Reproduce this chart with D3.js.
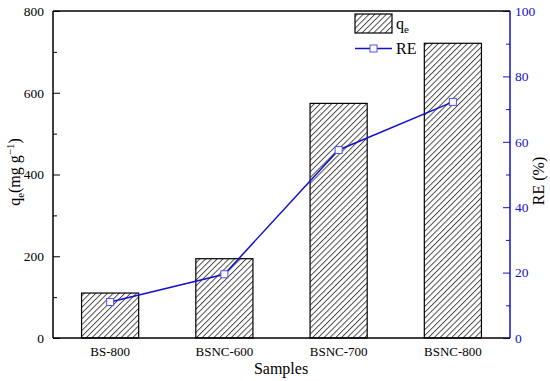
<!DOCTYPE html>
<html>
<head>
<meta charset="UTF-8">
<script src="https://cdnjs.cloudflare.com/ajax/libs/d3/7.8.5/d3.min.js"></script>
<style>
  body { margin: 0; background: #fff; }
  svg text { font-family: "Liberation Serif", "Times New Roman", serif !important; }
</style>
</head>
<body>
<svg id="chart" width="550" height="381"></svg>
<script>
// data
const samples = ["BS-800", "BSNC-600", "BSNC-700", "BSNC-800"];
const qe = [110, 194, 574, 721];
const re = [11.0, 19.5, 57.5, 72.2];
const qeTicks = [0, 200, 400, 600, 800];
const reTicks = [0, 20, 40, 60, 80, 100];

const margin = { left: 53, right: 40, top: 11, bottom: 43 };
const W = 550, H = 381;
const svg = d3.select("#chart");
const blue = "#1010d0";

const x = d3.scaleBand().domain(samples).range([margin.left, W - margin.right]).paddingInner(0.5).paddingOuter(0.25);
const y = d3.scaleLinear().domain([0, 800]).range([H - margin.bottom, margin.top]);
const y2 = d3.scaleLinear().domain([0, 100]).range([H - margin.bottom, margin.top]);

// hatch pattern
const hp = 4.1;
const defs = svg.append("defs");
const pat = defs.append("pattern")
    .attr("id", "hatch")
    .attr("patternUnits", "userSpaceOnUse")
    .attr("width", hp).attr("height", hp)
    .attr("patternTransform", "rotate(45)");
pat.append("rect").attr("width", hp).attr("height", hp).attr("fill", "#fff");
pat.append("line").attr("x1", 0.5).attr("y1", 0).attr("x2", 0.5).attr("y2", hp)
    .attr("stroke", "#222").attr("stroke-width", 0.8);

// bars
svg.selectAll("rect.bar")
    .data(samples)
    .join("rect")
    .attr("class", "bar")
    .attr("x", d => x(d))
    .attr("width", x.bandwidth())
    .attr("y", (d, i) => y(qe[i]))
    .attr("height", (d, i) => y(0) - y(qe[i]))
    .attr("fill", "url(#hatch)")
    .attr("stroke", "#000")
    .attr("stroke-width", 1.2);

// RE line
const pts = samples.map((d, i) => [x(d) + x.bandwidth() / 2, y2(re[i])]);
svg.append("path")
    .attr("d", d3.line()(pts))
    .attr("fill", "none")
    .attr("stroke", blue)
    .attr("stroke-width", 1.5);
svg.selectAll("rect.mk")
    .data(pts)
    .join("rect")
    .attr("class", "mk")
    .attr("x", d => d[0] - 3.5).attr("y", d => d[1] - 3.5)
    .attr("width", 7).attr("height", 7)
    .attr("fill", "#fff")
    .attr("stroke", "#5050f0")
    .attr("stroke-width", 1);

// axes
const left = svg.append("g").attr("transform", `translate(${margin.left},0)`)
    .call(d3.axisLeft(y).tickValues(qeTicks).tickSize(-7).tickPadding(9));
left.append("g").call(d3.axisLeft(y).tickValues([100, 300, 500, 700]).tickSize(-4).tickFormat(""));
left.selectAll("path.domain").remove();
left.selectAll("line").attr("stroke", "#000");
left.selectAll("text").attr("font-size", 13.5).attr("fill", "#000");

const right = svg.append("g").attr("transform", `translate(${W - margin.right},0)`)
    .call(d3.axisRight(y2).tickValues(reTicks).tickSize(-7).tickPadding(5));
right.append("g").call(d3.axisRight(y2).tickValues([10, 30, 50, 70, 90]).tickSize(-4).tickFormat(""));
right.selectAll("path.domain").remove();
right.selectAll("line").attr("stroke", blue);
right.selectAll("text").attr("font-size", 13.5).attr("fill", blue);

const bottom = svg.append("g").attr("transform", `translate(0,${H - margin.bottom})`)
    .call(d3.axisBottom(x).tickSize(0).tickPadding(9));
bottom.selectAll("path.domain").remove();
bottom.selectAll("text").attr("font-size", 13).attr("fill", "#000");

// frame
svg.append("line").attr("x1", margin.left).attr("x2", margin.left).attr("y1", margin.top).attr("y2", H - margin.bottom)
    .attr("stroke", "#000").attr("stroke-width", 1.5);
svg.append("line").attr("x1", margin.left).attr("x2", W - margin.right).attr("y1", margin.top).attr("y2", margin.top)
    .attr("stroke", "#000").attr("stroke-width", 1.5);
svg.append("line").attr("x1", margin.left).attr("x2", W - margin.right).attr("y1", H - margin.bottom).attr("y2", H - margin.bottom)
    .attr("stroke", "#000").attr("stroke-width", 1.5);
svg.append("line").attr("x1", W - margin.right).attr("x2", W - margin.right).attr("y1", margin.top).attr("y2", H - margin.bottom)
    .attr("stroke", blue).attr("stroke-width", 1.5);

// axis titles
svg.append("text").attr("x", 281).attr("y", 374).attr("text-anchor", "middle")
    .attr("font-size", 16).text("Samples");
const lt = svg.append("text").attr("transform", "translate(20,172) rotate(-90)")
    .attr("text-anchor", "middle").attr("font-size", 16);
lt.append("tspan").text("q");
lt.append("tspan").attr("font-size", 11).attr("dy", 4).text("e");
lt.append("tspan").attr("dy", -4).text("(mg g");
lt.append("tspan").attr("font-size", 11).attr("dy", -6).text("−1");
lt.append("tspan").attr("dy", 6).text(")");
svg.append("text").attr("transform", "translate(544,181) rotate(-90)")
    .attr("text-anchor", "middle").attr("font-size", 16).text("RE (%)");

// legend
const lg = svg.append("g");
lg.append("rect").attr("x", 355).attr("y", 14).attr("width", 37).attr("height", 19)
    .attr("fill", "url(#hatch)").attr("stroke", "#000").attr("stroke-width", 1.2);
const lq = lg.append("text").attr("x", 396).attr("y", 29).attr("font-size", 16);
lq.append("tspan").text("q");
lq.append("tspan").attr("font-size", 11).attr("dy", 4).text("e");
lg.append("line").attr("x1", 355).attr("x2", 392).attr("y1", 48.5).attr("y2", 48.5)
    .attr("stroke", blue).attr("stroke-width", 1.5);
lg.append("rect").attr("x", 370).attr("y", 45).attr("width", 7).attr("height", 7)
    .attr("fill", "#fff").attr("stroke", "#5050f0");
lg.append("text").attr("x", 396).attr("y", 54).attr("font-size", 16).text("RE");
</script>
</body>
</html>
